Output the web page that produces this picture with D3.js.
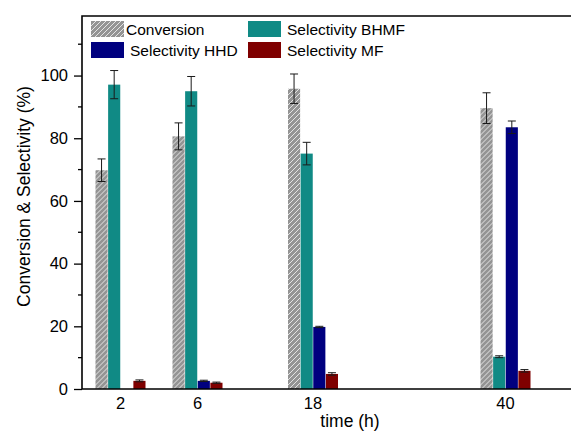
<!DOCTYPE html>
<html>
<head>
<meta charset="utf-8">
<script src="https://cdn.jsdelivr.net/npm/d3@7"></script>
<style>
  body { margin: 0; background: #fff; }
  svg { display: block; }
</style>
</head>
<body>
<div id="chart"></div>
<script>
// data
var times = [2, 6, 18, 40];
var timeSlots = [1, 2, 3.5, 6]; // uneven spacing of the groups on the original x axis
var seriesNames = ["Conversion", "Selectivity BHMF", "Selectivity HHD", "Selectivity MF"];
var conversion = [69.8, 80.6, 95.8, 89.6];
var conversionErr = [3.6, 4.3, 4.7, 4.9];
var selBHMF = [97.1, 95.0, 75.1, 10.3];
var selBHMFErr = [4.5, 4.7, 3.6, 0.3];
var selHHD = [0, 2.6, 19.8, 83.5];
var selHHDErr = [0, 0.2, 0.2, 2.0];
var selMF = [2.6, 2.0, 4.8, 5.8];
var selMFErr = [0.3, 0.2, 0.4, 0.4];
var yTicks = [0, 20, 40, 60, 80, 100];
var yMinorTicks = [10, 30, 50, 70, 90, 110];

var width = 571, height = 432;
var FONT = "Arial, 'Liberation Sans', sans-serif";
var colors = ["url(#hatch)", "#108a85", "#00007f", "#7f0000"];

var svg = d3.select("#chart").append("svg")
	.attr("width", width).attr("height", height);

var defs = svg.append("defs");
var pat = defs.append("pattern")
	.attr("id", "hatch")
	.attr("patternUnits", "userSpaceOnUse")
	.attr("width", 5).attr("height", 5);
pat.append("rect").attr("width", 5).attr("height", 5).attr("fill", "#949494");
pat.append("path")
	.attr("d", "M-1,1 l2,-2 M0,5 l5,-5 M4,6 l2,-2")
	.attr("stroke", "#e4e4e4").attr("stroke-width", 1);

var plotLeft = 82, plotTop = 16, plotBottom = 389;

var x = d3.scaleLinear().domain([0.5, 7]).range([plotLeft, plotLeft + 6.5 * 77]);
var y = d3.scaleLinear().domain([0, 119]).range([plotBottom, plotTop]);
var inner = d3.scaleBand().domain(seriesNames).range([-25, 25]).paddingInner(0.04);

var rows = times.map(function(t, i) {
	return {
		time: t,
		slot: timeSlots[i],
		values: [
			{ name: seriesNames[0], v: conversion[i], e: conversionErr[i] },
			{ name: seriesNames[1], v: selBHMF[i], e: selBHMFErr[i] },
			{ name: seriesNames[2], v: selHHD[i], e: selHHDErr[i] },
			{ name: seriesNames[3], v: selMF[i], e: selMFErr[i] }
		]
	};
});

var groups = svg.selectAll(".grp")
	.data(rows)
	.enter()
	.append("g")
	.attr("class", "grp")
	.attr("transform", function(d) { return "translate(" + x(d.slot) + ",0)"; });

groups.selectAll("rect")
	.data(function(d) { return d.values.filter(function(v) { return v.v > 0; }); })
	.enter()
	.append("rect")
	.attr("x", function(d) { return inner(d.name); })
	.attr("y", function(d) { return y(d.v); })
	.attr("width", inner.bandwidth())
	.attr("height", function(d) { return plotBottom - y(d.v); })
	.attr("fill", function(d) { return colors[seriesNames.indexOf(d.name)]; });

// error bars
var eb = groups.selectAll(".err")
	.data(function(d) { return d.values.filter(function(v) { return v.v > 0; }); })
	.enter()
	.append("g")
	.attr("class", "err")
	.attr("stroke", "#1a1a1a")
	.attr("stroke-width", 1)
	.attr("transform", function(d) { return "translate(" + (inner(d.name) + inner.bandwidth() / 2) + ",0)"; });

eb.append("line")
	.attr("x1", 0).attr("x2", 0)
	.attr("y1", function(d) { return y(d.v + d.e); })
	.attr("y2", function(d) { return y(d.v - d.e); });
eb.append("line")
	.attr("x1", -4).attr("x2", 4)
	.attr("y1", function(d) { return y(d.v + d.e); })
	.attr("y2", function(d) { return y(d.v + d.e); });
eb.append("line")
	.attr("x1", -4).attr("x2", 4)
	.attr("y1", function(d) { return y(d.v - d.e); })
	.attr("y2", function(d) { return y(d.v - d.e); });

// y axis
var yAxis = svg.append("g")
	.attr("transform", "translate(" + plotLeft + ",0)")
	.call(d3.axisLeft(y).tickValues(yTicks).tickSize(8).tickPadding(6));
yAxis.select(".domain").remove();
yAxis.selectAll(".tick line").attr("stroke", "#000").attr("stroke-width", 1.3);
yAxis.selectAll("text").style("font-family", FONT).style("font-size", "16.5px").attr("fill", "#000");

svg.append("g")
	.selectAll("line")
	.data(yMinorTicks)
	.enter()
	.append("line")
	.attr("x1", plotLeft - 4).attr("x2", plotLeft)
	.attr("y1", function(d) { return y(d); }).attr("y2", function(d) { return y(d); })
	.attr("stroke", "#000").attr("stroke-width", 1.3);

// frame
svg.append("path")
	.attr("d", "M" + width + "," + plotTop + "H" + plotLeft + "V" + plotBottom + "H" + width)
	.attr("fill", "none").attr("stroke", "#000").attr("stroke-width", 1.6);

// x tick labels
svg.append("g")
	.selectAll("text")
	.data(rows)
	.enter()
	.append("text")
	.attr("x", function(d) { return x(d.slot); })
	.attr("y", 409)
	.attr("text-anchor", "middle")
	.style("font-family", FONT).style("font-size", "16.5px")
	.text(function(d) { return d.time; });

svg.append("text")
	.attr("x", 350).attr("y", 427)
	.attr("text-anchor", "middle")
	.style("font-family", FONT).style("font-size", "17.5px")
	.text("time (h)");

svg.append("text")
	.attr("transform", "translate(30," + ((plotTop + plotBottom) / 2 - 6) + ") rotate(-90)")
	.attr("text-anchor", "middle")
	.style("font-family", FONT).style("font-size", "17.5px")
	.text("Conversion & Selectivity (%)");

// legend
var legendOrder = [0, 1, 2, 3];
var legend = svg.append("g")
	.selectAll("g")
	.data(legendOrder)
	.enter()
	.append("g")
	.attr("transform", function(d) { return "translate(" + (d % 2 ? 248 : 91) + "," + (d < 2 ? 21 : 42) + ")"; });
legend.append("rect")
	.attr("width", 33).attr("height", 16)
	.attr("fill", function(d) { return colors[d]; });
legend.append("text")
	.attr("x", function(d) { return d === 0 ? 35 : 39; })
	.attr("y", 14)
	.style("font-family", FONT).style("font-size", "15.5px")
	.text(function(d) { return seriesNames[d]; });
</script>
</body>
</html>
